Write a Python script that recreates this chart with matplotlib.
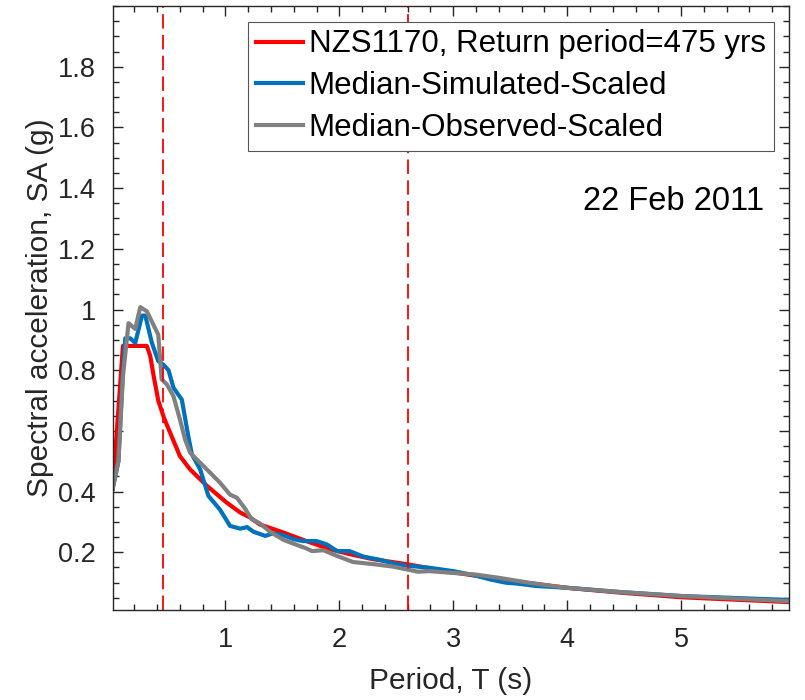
import numpy as np
import matplotlib.pyplot as plt
from matplotlib.ticker import MultipleLocator, FuncFormatter

plt.rcParams['font.family'] = ['Liberation Sans', 'DejaVu Sans']

# NZS1170 design spectrum (475 yr return period)
red_T = [0.01, 0.10, 0.31, 0.34, 0.37, 0.41, 0.46, 0.53, 0.60, 0.69, 0.84, 1.01,
         1.13, 1.22, 1.30, 1.51, 1.71, 1.92, 2.09, 2.30, 2.59, 3.00, 3.46, 4.00,
         4.47, 5.00, 5.95]
red_SA = [0.41, 0.88, 0.88, 0.846, 0.78, 0.70, 0.643, 0.58, 0.517, 0.473, 0.418, 0.364,
          0.331, 0.314, 0.292, 0.265, 0.237, 0.210, 0.194, 0.177, 0.161, 0.134, 0.108, 0.083,
          0.067, 0.052, 0.036]

# median of simulated records, scaled
sim_T = [0.01, 0.06, 0.10, 0.12, 0.164, 0.208, 0.267, 0.296, 0.354, 0.41, 0.456, 0.50,
         0.544, 0.617, 0.67, 0.705, 0.778, 0.85, 0.953, 1.04, 1.13, 1.19, 1.245, 1.35,
         1.42, 1.51, 1.60, 1.68, 1.80, 1.89, 1.98, 2.09, 2.21, 2.36, 2.50, 2.60,
         2.79, 3.00, 3.19, 3.33, 3.46, 3.56, 3.73, 4.00, 4.47, 5.00, 5.95]
sim_SA = [0.41, 0.50, 0.80, 0.905, 0.905, 0.89, 0.98, 0.98, 0.89, 0.83, 0.818, 0.80,
          0.742, 0.703, 0.59, 0.523, 0.473, 0.386, 0.34, 0.287, 0.278, 0.283, 0.268, 0.254,
          0.263, 0.256, 0.243, 0.237, 0.237, 0.226, 0.204, 0.204, 0.186, 0.175, 0.161, 0.156,
          0.149, 0.138, 0.124, 0.110, 0.100, 0.097, 0.089, 0.083, 0.069, 0.056, 0.043]

# median of observed records, scaled
obs_T = [0.01, 0.06, 0.10, 0.149, 0.208, 0.252, 0.31, 0.41, 0.44, 0.486, 0.544, 0.60,
         0.647, 0.69, 0.778, 0.866, 0.953, 1.04, 1.10, 1.17, 1.23, 1.30, 1.39, 1.51,
         1.60, 1.71, 1.76, 1.86, 1.98, 2.12, 2.30, 2.47, 2.60, 2.69, 2.79, 3.00,
         3.19, 3.40, 3.66, 3.87, 4.00, 4.47, 5.00, 5.95]
obs_SA = [0.41, 0.50, 0.78, 0.955, 0.936, 1.008, 0.994, 0.917, 0.77, 0.753, 0.714, 0.638,
          0.57, 0.528, 0.495, 0.462, 0.429, 0.39, 0.38, 0.345, 0.309, 0.296, 0.268, 0.241,
          0.228, 0.213, 0.204, 0.207, 0.188, 0.168, 0.161, 0.153, 0.143, 0.136, 0.138, 0.132,
          0.127, 0.116, 0.100, 0.089, 0.083, 0.069, 0.056, 0.039]

# period range used for scaling
T_bounds = [0.45, 2.6]

fig = plt.figure(figsize=(8.05, 7.0), dpi=100)
ax = fig.add_axes([0.14, 0.1286, 0.8405, 0.8628])

ax.plot(red_T, red_SA, color='#ff0000', lw=3.0, label='NZS1170, Return period=475 yrs')
ax.plot(sim_T, sim_SA, color='#0072bd', lw=3.0, label='Median-Simulated-Scaled')
ax.plot(obs_T, obs_SA, color='#808080', lw=3.0, label='Median-Observed-Scaled')
for t in T_bounds:
    ax.axvline(t, color='#ff0000', lw=1.3, dashes=(8, 3.5))

ax.set_xlim(0.01, 5.95)
ax.set_ylim(0.01, 2.0)
ax.xaxis.set_major_locator(MultipleLocator(1))
ax.xaxis.set_minor_locator(MultipleLocator(0.2))
ax.set_yticks(np.arange(0.2, 1.81, 0.2))
ax.yaxis.set_minor_locator(MultipleLocator(0.05))
ax.yaxis.set_major_formatter(FuncFormatter(lambda v, p: '%g' % round(v, 2)))

ax.tick_params(which='both', direction='in', top=True, right=True,
               colors='#262626', labelsize=19.5, width=1.0)
ax.tick_params(which='major', length=7, pad=12)
ax.tick_params(which='minor', length=4)
for s in ax.spines.values():
    s.set_color('#262626')
    s.set_linewidth(1.0)

ax.set_xlabel('Period, T (s)', fontsize=21.5, color='#262626', labelpad=10)
ax.set_ylabel('Spectral acceleration, SA (g)', fontsize=21.5, color='#262626', labelpad=3)

ax.text(0.963, 0.676, '22 Feb 2011', transform=ax.transAxes, ha='right', va='center',
        fontsize=23.5, color='black')

leg = ax.legend(loc='upper right', fontsize=22.5, frameon=True, fancybox=False,
                framealpha=1, edgecolor='#555555', handlelength=1.5,
                handletextpad=0.2, labelspacing=0.38, borderpad=0.25,
                borderaxespad=0.5)
leg.get_frame().set_linewidth(0.8)

fig.savefig('out.png', dpi=100)
